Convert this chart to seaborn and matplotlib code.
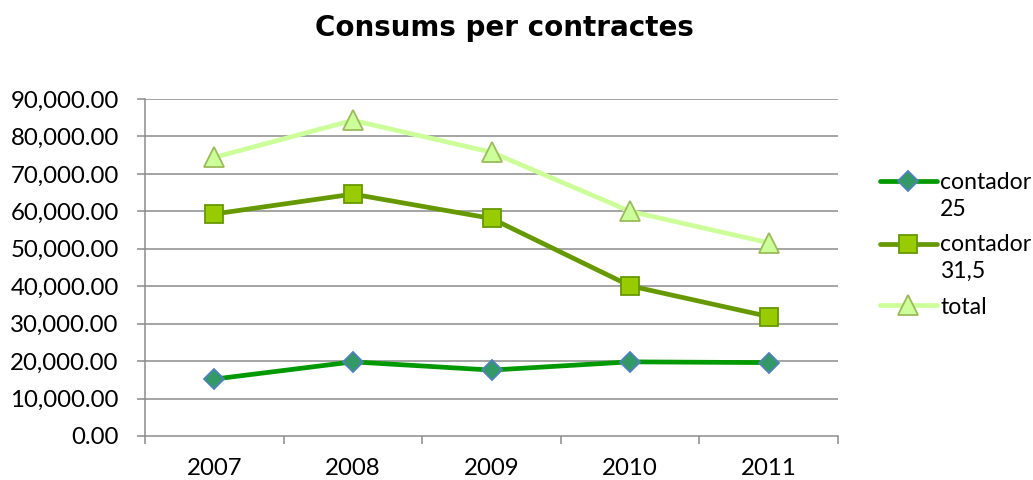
import numpy as np
import pandas as pd
import matplotlib
matplotlib.use("Agg")
import matplotlib.pyplot as plt
import seaborn as sns
from matplotlib.legend_handler import HandlerLine2D
from matplotlib.ticker import FuncFormatter, FixedLocator, MultipleLocator

years = ["2007", "2008", "2009", "2010", "2011"]
contador_25 = [15200, 19800, 17600, 19800, 19600]
contador_31_5 = [59300, 64600, 58100, 40100, 31900]
total = [74400, 84300, 75800, 60000, 51600]

labels = ["contador\n25", "contador\n31,5", "total"]
title = "Consums per contractes"

sns.set_theme(style="white")
plt.rcParams["font.family"] = ["Lato", "DejaVu Sans"]
plt.rcParams["text.color"] = "#000000"

FS = 17.3
LFS = 16.6

fig = plt.figure(figsize=(10.33, 4.8), dpi=100)
ax = fig.add_axes([0.1404, 0.0917, 0.8112 - 0.1404, 0.7937 - 0.0917])

grid_c = "#8C8C8C"
ax.set_ylim(0, 90000)
ax.yaxis.set_major_locator(MultipleLocator(10000))
for v in np.arange(10000, 90001, 10000):
    ax.axhline(v, color=grid_c, lw=1.1, zorder=0)

df1 = pd.DataFrame({"year": years, "val": contador_25})
df2 = pd.DataFrame({"year": years, "val": contador_31_5})
df3 = pd.DataFrame({"year": years, "val": total})

sns.lineplot(data=df1, x="year", y="val", ax=ax, color="#009900", lw=3.4,
             marker="D", markersize=10.5, markerfacecolor="#339966",
             markeredgecolor="#4F81BD", markeredgewidth=1.3, label=labels[0], zorder=3)
sns.lineplot(data=df2, x="year", y="val", ax=ax, color="#669900", lw=3.4,
             marker="s", markersize=13, markerfacecolor="#99CC00",
             markeredgecolor="#669900", markeredgewidth=1.3, label=labels[1], zorder=3)
sns.lineplot(data=df3, x="year", y="val", ax=ax, color="#CCFF99", lw=3.4,
             marker="^", markersize=14, markerfacecolor="#CCFF99",
             markeredgecolor="#9BBB59", markeredgewidth=1.3, label=labels[2], zorder=3)

ax.set_xlim(-0.5, len(years) - 0.5)
ax.set_xlabel("")
ax.set_ylabel("")
ax.yaxis.set_major_formatter(FuncFormatter(lambda v, p: f"{v:,.2f}"))
ax.xaxis.set_minor_locator(FixedLocator(np.arange(-0.5, len(years), 1.0)))
ax.tick_params(axis="x", which="major", length=0, pad=16, labelsize=FS, labelcolor="#000000")
ax.tick_params(axis="x", which="minor", length=6, width=1.1, color=grid_c, direction="out", bottom=True)
ax.tick_params(axis="y", which="major", length=6, width=1.1, color=grid_c, direction="out",
               left=True, pad=13, labelsize=FS, labelcolor="#000000")

for s in ["top", "right"]:
    ax.spines[s].set_visible(False)
for s in ["left", "bottom"]:
    ax.spines[s].set_color(grid_c)
    ax.spines[s].set_linewidth(1.1)

fig.text(0.488, 0.942, title, ha="center", va="center", fontsize=20,
         fontweight="bold", family="DejaVu Sans", color="#000000")


class TopHandler(HandlerLine2D):
    def __init__(self, nlines=1, **kw):
        super().__init__(**kw)
        self.nlines = nlines

    def create_artists(self, legend, orig_handle, xdescent, ydescent, width, height, fontsize, trans):
        shift = 1.3 * fontsize * (self.nlines - 1)
        return super().create_artists(legend, orig_handle, xdescent, ydescent - shift,
                                      width, height, fontsize, trans)


handles, labs = ax.get_legend_handles_labels()
if ax.get_legend():
    ax.get_legend().remove()
hmap = {h: TopHandler(nlines=l.count("\n") + 1) for h, l in zip(handles, labs)}
leg = fig.legend(handles, labs, loc="center left", bbox_to_anchor=(0.852, 0.49),
                 frameon=False, fontsize=LFS, handlelength=2.45, handletextpad=0.15,
                 labelspacing=0.62, handler_map=hmap, borderaxespad=0, borderpad=0)
for t in leg.get_texts():
    t.set_linespacing(1.35)
    t.set_color("#000000")

fig.savefig("out.png", dpi=100)
